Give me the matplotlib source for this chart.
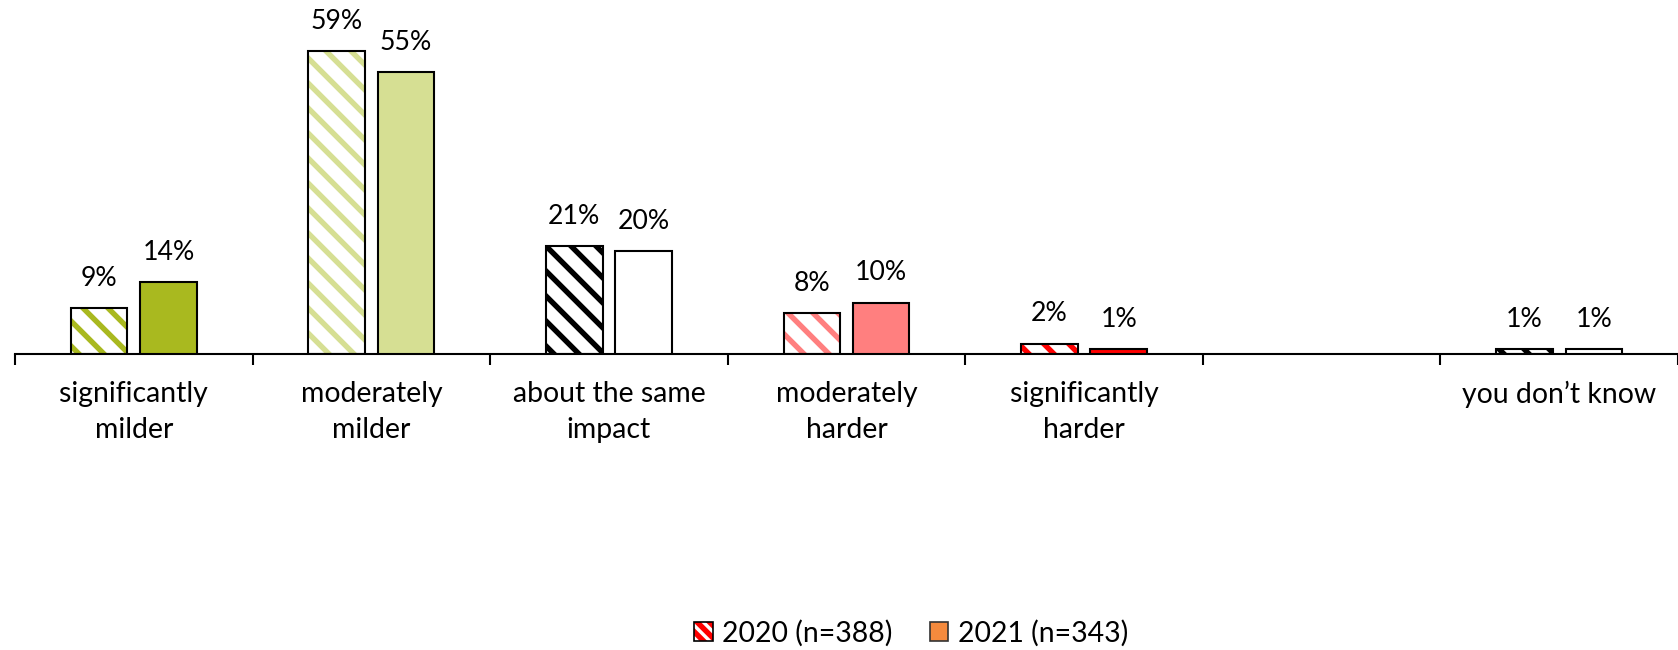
import numpy as np
import matplotlib.pyplot as plt
from matplotlib.patches import Patch
from matplotlib.legend_handler import HandlerTuple

plt.rcParams['font.family'] = ['Lato', 'DejaVu Sans']
plt.rcParams['hatch.linewidth'] = 2.6

# answers (6th slot is an empty spacer category)
categories = ['significantly\nmilder', 'moderately\nmilder', 'about the same\nimpact',
              'moderately\nharder', 'significantly\nharder', '', 'you don\u2019t know']
vals_2020 = [9, 59, 21, 8, 2, np.nan, 1]
vals_2021 = [14, 55, 20, 10, 1, np.nan, 1]

# per-category colours: 2020 is hatched in the colour, 2021 filled with it
hatch_cols = ['#A9B91F', '#D6DF93', '#000000', '#FF7F7F', '#FF0000', 'white', '#000000']
fill_cols = ['#A9B91F', '#D6DF93', '#FFFFFF', '#FF7F7F', '#FF0000', 'white', '#FFFFFF']

labels = ['2020 (n=388)', '2021 (n=343)']

# 150 dpi so the '\\' hatch gives wide stripes
DPI = 150
fig = plt.figure(figsize=(1678 / DPI, 650 / DPI), dpi=DPI)
ax = fig.add_axes([15 / 1678, 1 - 354 / 650, 1 - 15 / 1678, 354 / 650])

x = np.arange(len(categories))
w = 0.238
off = 0.146
HATCH = '\\\\'

for i in range(len(categories)):
    v0, v1 = vals_2020[i], vals_2021[i]
    if not np.isnan(v0):
        ax.bar(x[i] - off, v0, w, color='white', edgecolor=hatch_cols[i],
               hatch=HATCH, linewidth=0, zorder=2)
        ax.bar(x[i] - off, v0, w, fill=False, edgecolor='black', linewidth=1.0, zorder=3)
        ax.annotate(f'{v0:.0f}%', (x[i] - off, v0), xytext=(0, 10.7),
                    textcoords='offset points', ha='center', va='baseline', fontsize=12.8)
    if not np.isnan(v1):
        ax.bar(x[i] + off, v1, w, color=fill_cols[i], edgecolor='black',
               linewidth=1.0, zorder=3)
        ax.annotate(f'{v1:.0f}%', (x[i] + off, v1), xytext=(0, 10.7),
                    textcoords='offset points', ha='center', va='baseline', fontsize=12.8)

ax.set_xlim(-0.5, len(categories) - 0.5)
ax.set_ylim(0, 69)

for s in ['top', 'right', 'left']:
    ax.spines[s].set_visible(False)
ax.spines['bottom'].set_linewidth(1.0)
ax.set_yticks([])

ax.set_xticks(x)
ax.set_xticklabels(categories, fontsize=13.6, linespacing=1.45)
ax.set_xticks(np.arange(len(categories) + 1) - 0.5, minor=True)
ax.tick_params(axis='x', which='major', length=0, pad=13)
ax.tick_params(axis='x', which='minor', length=5.3, width=1.0)

h2020 = (Patch(facecolor='white', edgecolor='#FF0000', hatch='\\\\\\\\', linewidth=0),
         Patch(fill=False, edgecolor='black', linewidth=0.8))
h2021 = Patch(facecolor='#F58A3D', edgecolor='#333333', linewidth=0.8)
fig.legend([h2020, h2021], labels, loc='center', bbox_to_anchor=(0.543, 1 - 633 / 650),
           ncol=2, frameon=False, fontsize=13.6, handlelength=0.65, handleheight=0.65,
           handletextpad=0.35, columnspacing=1.3,
           handler_map={tuple: HandlerTuple(ndivide=1, pad=0)})

fig.savefig('out.png', dpi=DPI)
